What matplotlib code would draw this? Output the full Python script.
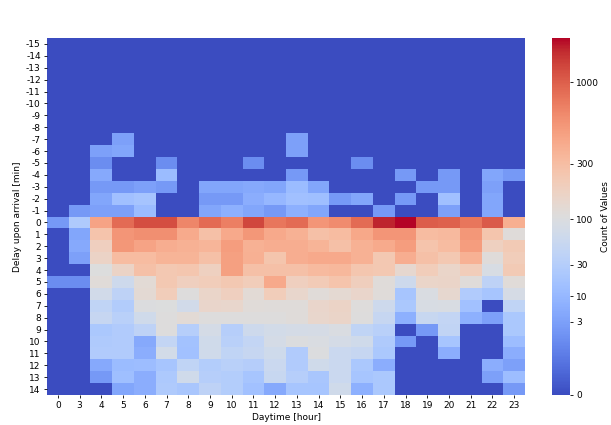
import numpy as np
import matplotlib
matplotlib.use("Agg")
import matplotlib.pyplot as plt
from matplotlib.colors import PowerNorm

# hours that appear in the data (1 and 2 have no trains)
hours = [0, 3, 4, 5, 6, 7, 8, 9, 10, 11, 12, 13, 14, 15, 16, 17, 18, 19, 20, 21, 22, 23]
delays = list(range(-15, 15))

# counts per delay (rows, -15 .. 14) and hour (columns, same order as hours)
counts = [
    [0] * 22,  # -15
    [0] * 22,  # -14
    [0] * 22,  # -13
    [0] * 22,  # -12
    [0] * 22,  # -11
    [0] * 22,  # -10
    [0] * 22,  # -9
    [0] * 22,  # -8
    [0, 0, 0, 3, 0, 0, 0, 0, 0, 0, 0, 3, 0, 0, 0, 0, 0, 0, 0, 0, 0, 0],  # -7
    [0, 0, 3, 4, 0, 0, 0, 0, 0, 0, 0, 3, 0, 0, 0, 0, 0, 0, 0, 0, 0, 0],  # -6
    [0, 0, 1, 0, 0, 1, 0, 0, 0, 1, 0, 0, 0, 0, 1, 0, 0, 0, 0, 0, 0, 0],  # -5
    [0, 0, 5, 0, 0, 12, 0, 0, 0, 0, 0, 2, 0, 0, 0, 0, 2, 0, 2, 0, 4, 2],  # -4
    [0, 0, 2, 2, 3, 2, 0, 4, 4, 5, 4, 12, 4, 0, 0, 0, 0, 2, 2, 0, 3, 0],  # -3
    [0, 0, 4, 15, 18, 0, 0, 2, 2, 6, 10, 15, 14, 2, 4, 0, 2, 0, 15, 0, 4, 0],  # -2
    [0, 2, 3, 3, 12, 0, 0, 4, 7, 4, 2, 7, 4, 0, 0, 2, 0, 0, 3, 0, 4, 0],  # -1
    [2, 25, 470, 910, 1165, 1165, 680, 910, 730, 1215, 800, 910, 570, 640, 910, 1500, 1700, 1020, 990, 810, 1040, 390],  # 0
    [0, 4, 260, 570, 610, 610, 420, 285, 430, 560, 430, 375, 285, 310, 440, 570, 570, 310, 330, 550, 255, 115],  # 1
    [0, 5, 190, 550, 470, 400, 375, 350, 510, 375, 400, 405, 360, 285, 375, 420, 510, 265, 310, 510, 186, 225],  # 2
    [0, 3, 167, 310, 310, 360, 360, 285, 490, 385, 255, 405, 430, 430, 375, 240, 405, 280, 240, 375, 115, 210],  # 3
    [0, 0, 106, 167, 280, 240, 250, 186, 490, 280, 285, 285, 320, 335, 250, 235, 140, 206, 160, 206, 88, 225],  # 4
    [1, 1, 120, 65, 124, 240, 195, 206, 240, 206, 430, 195, 220, 265, 200, 115, 65, 160, 165, 115, 40, 120],  # 5
    [0, 0, 73, 40, 130, 210, 108, 160, 190, 124, 210, 150, 118, 132, 155, 115, 19, 95, 140, 27, 19, 83],  # 6
    [0, 0, 44, 28, 100, 106, 73, 155, 150, 118, 115, 115, 155, 167, 110, 65, 22, 90, 93, 16, 0, 44],  # 7
    [0, 0, 53, 35, 70, 108, 124, 108, 108, 108, 108, 115, 150, 165, 108, 53, 7, 55, 48, 7, 3, 22],  # 8
    [0, 0, 22, 27, 40, 108, 32, 80, 32, 65, 75, 80, 83, 95, 44, 35, 0, 2, 45, 0, 0, 22],  # 9
    [0, 0, 25, 27, 5, 48, 17, 70, 35, 48, 80, 100, 95, 80, 70, 25, 2, 0, 19, 0, 0, 13],  # 10
    [0, 0, 27, 27, 6, 75, 16, 70, 44, 53, 68, 27, 100, 60, 53, 22, 0, 0, 6, 0, 0, 6],  # 11
    [0, 0, 5, 12, 13, 19, 43, 29, 34, 30, 58, 27, 70, 58, 22, 6, 0, 0, 0, 0, 6, 3],  # 12
    [0, 0, 2, 14, 6, 23, 70, 32, 29, 19, 55, 32, 20, 58, 19, 22, 0, 0, 0, 0, 3, 13],  # 13
    [0, 0, 0, 4, 6, 25, 20, 40, 29, 16, 5, 19, 19, 70, 7, 22, 0, 0, 0, 0, 0, 2],  # 14
]
cbar_ticks = [0, 3, 10, 30, 100, 300, 1000]

FS = 6.5

fig = plt.figure(figsize=(6.11, 4.25), dpi=100)
ax = fig.add_axes([47 / 611, 30 / 425, 478 / 611, 357 / 425])
cax = fig.add_axes([552 / 611, 30 / 425, 18 / 611, 357 / 425])

data = np.array(counts, dtype=float)
norm = PowerNorm(gamma=0.25, vmin=0, vmax=data.max())
mesh = ax.pcolormesh(data, cmap="coolwarm", norm=norm)

ax.set_xlim(0, len(hours))
ax.set_ylim(len(delays), 0)
ax.set_xticks(np.arange(len(hours)) + 0.5)
ax.set_xticklabels([str(h) for h in hours])
ax.set_yticks(np.arange(len(delays)) + 0.5)
ax.set_yticklabels([str(d) for d in delays])
ax.tick_params(labelsize=FS, length=2.5, width=0.6, pad=2)
for s in ax.spines.values():
    s.set_visible(False)
ax.set_xlabel("Daytime [hour]", fontsize=FS, labelpad=2)
ax.set_ylabel("Delay upon arrival [min]", fontsize=FS, labelpad=3)

cb = fig.colorbar(mesh, cax=cax, ticks=cbar_ticks)
cb.outline.set_visible(False)
cb.ax.set_yticklabels([str(t) for t in cbar_ticks])
cb.ax.tick_params(labelsize=FS, length=2.5, width=0.6, pad=2)
cb.set_label("Count of Values", fontsize=FS, labelpad=1)

fig.savefig("out.png", dpi=100)
